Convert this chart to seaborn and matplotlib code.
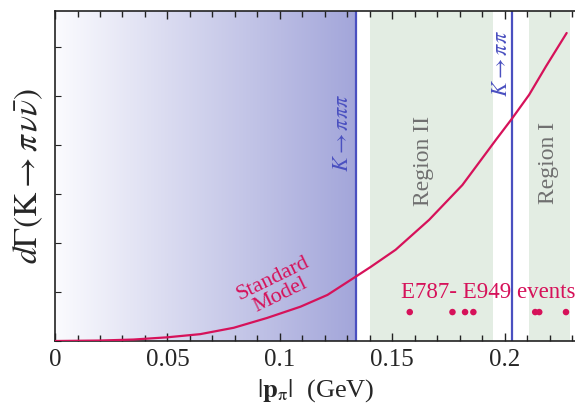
import numpy as np
import pandas as pd
import seaborn as sns
import matplotlib
import matplotlib.pyplot as plt
from matplotlib.colors import LinearSegmentedColormap
from matplotlib.ticker import MultipleLocator

matplotlib.use('Agg')

# values
sm_p = [0.0, 0.0201, 0.0349, 0.0498, 0.0646, 0.0795, 0.0943, 0.1092, 0.1212,
        0.1337, 0.1404, 0.1515, 0.1664, 0.1812, 0.1961, 0.2032, 0.2109,
        0.2184, 0.2276]
sm_rate = [0.0, 0.01, 0.03, 0.075, 0.14, 0.27, 0.47, 0.70, 0.94,
           1.31, 1.51, 1.86, 2.47, 3.18, 4.10, 4.53, 5.02,
           5.60, 6.28]
event_p = [0.1578, 0.1768, 0.1824, 0.1861, 0.2136, 0.2154, 0.2273]
event_y = [0.59] * len(event_p)
k3pi_end = 0.1337
k2pi_line = 0.2032
region2 = (0.140, 0.195)
region1 = (0.211, 0.229)

sns.set_theme(style='ticks')
plt.rcParams['font.family'] = ['Liberation Serif', 'DejaVu Serif']
plt.rcParams['mathtext.fontset'] = 'stix'

RED = '#d6125a'
BLUE = '#4a50c0'
GREEN = '#e3ede3'

fig = plt.figure(figsize=(5.75, 4.05), dpi=100)
ax = fig.add_axes([0.0957, 0.158, 0.907, 0.815])
ymax = 6.73
ax.set_xlim(0, 0.232)
ax.set_ylim(0, ymax)

# gradient shading below the K -> 3 pi endpoint
cmap = LinearSegmentedColormap.from_list('grad', ['#fbfbfe', '#a3a6da'])
ax.imshow(np.linspace(0, 1, 256).reshape(1, -1), cmap=cmap, aspect='auto',
          extent=[0, k3pi_end, 0, ymax], zorder=0)
ax.axvspan(*region2, color=GREEN, lw=0, zorder=0)
ax.axvspan(*region1, color=GREEN, lw=0, zorder=0)
ax.axvline(k3pi_end, color=BLUE, lw=1.6, zorder=2)
ax.axvline(k2pi_line, color=BLUE, lw=1.6, zorder=2)

df = pd.DataFrame({'p': sm_p, 'rate': sm_rate})
sns.lineplot(data=df, x='p', y='rate', color=RED, lw=1.6, ax=ax, zorder=3)
ev = pd.DataFrame({'p': event_p, 'y': event_y})
sns.scatterplot(data=ev, x='p', y='y', color=RED, s=22, edgecolor='none',
                ax=ax, zorder=4)

ax.text(0.0985, 1.10, 'Standard\nModel', color=RED, fontsize=16, rotation=26,
        ha='center', va='center', multialignment='center', linespacing=0.95)
ax.text(0.1925, 0.98, 'E787- E949 events', color=RED, fontsize=16.5,
        ha='center', va='center')
ax.text(0.1283, 4.24, r'$K \rightarrow \pi\pi\pi$', color=BLUE, fontsize=16,
        rotation=90, ha='center', va='center')
ax.text(0.1990, 5.65, r'$K \rightarrow \pi\pi$', color=BLUE, fontsize=16,
        rotation=90, ha='center', va='center')
ax.text(0.164, 3.67, 'Region II', color='#707070', fontsize=17, rotation=90,
        ha='center', va='center')
ax.text(0.2197, 3.63, 'Region I', color='#707070', fontsize=17, rotation=90,
        ha='center', va='center')

ax.set_xlabel(r'$|\mathbf{p}_{\mathrm{\pi}}|$  (GeV)', fontsize=19, labelpad=4)
ax.set_ylabel(r'$d\Gamma(\mathrm{K} \rightarrow \pi\,\nu\bar{\nu})$',
              fontsize=24, labelpad=4)

ax.set_xticks([0, 0.05, 0.1, 0.15, 0.2])
ax.set_xticklabels(['0', '0.05', '0.1', '0.15', '0.2'])
ax.xaxis.set_minor_locator(MultipleLocator(0.01))
ax.yaxis.set_major_locator(MultipleLocator(1))
ax.set_yticklabels([])
ax.tick_params(axis='x', which='both', direction='in', top=True, bottom=True,
               labelsize=18, pad=6, color='#222222')
ax.tick_params(axis='x', which='major', length=6, width=1)
ax.tick_params(axis='x', which='minor', length=4, width=1)
ax.tick_params(axis='y', which='major', direction='in', left=True, right=False,
               length=4, width=0.8, color='#222222')
for side in ['left', 'bottom', 'top']:
    ax.spines[side].set_color('#222222')
    ax.spines[side].set_linewidth(1.2)
ax.spines['right'].set_visible(False)

fig.savefig('out.png', dpi=100)
plt.close(fig)
